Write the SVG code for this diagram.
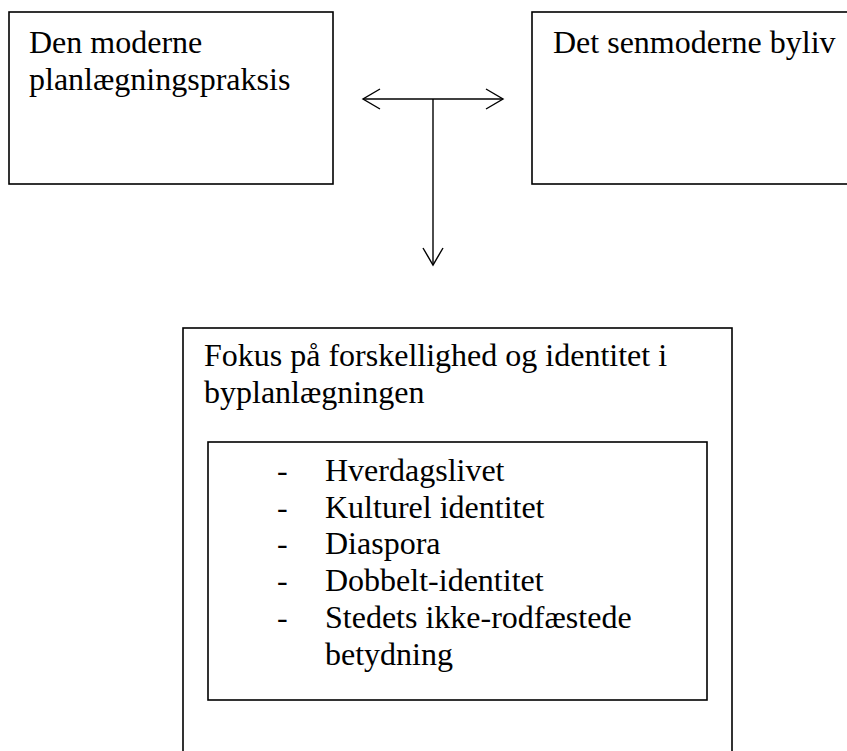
<svg xmlns="http://www.w3.org/2000/svg" width="847" height="751" viewBox="0 0 847 751">
<style>
.box{fill:#fff;stroke:#000;stroke-width:1.6}
.t{font-family:"Liberation Serif","Times New Roman",serif;font-size:32px;fill:#000}
.c{fill:none;stroke:#000;stroke-width:1.4}
</style>
<defs>
<marker id="ah" viewBox="-20 -12 22 24" refX="0" refY="0" markerWidth="22" markerHeight="24" markerUnits="userSpaceOnUse" orient="auto-start-reverse">
<path d="M-17,-10 L0,0 L-17,10" fill="none" stroke="#000" stroke-width="1.4"/>
</marker>
</defs>
<rect width="847" height="751" fill="#fff"/>
<g id="node-moderne">
<rect class="box" x="9" y="12" width="324" height="172"/>
<text class="t" x="29" y="53">Den moderne</text>
<text class="t" x="29" y="90">planlægningspraksis</text>
</g>
<g id="node-senmoderne">
<rect class="box" x="532" y="12" width="330" height="172"/>
<text class="t" x="553" y="53">Det senmoderne byliv</text>
</g>
<g id="node-fokus">
<rect class="box" x="183" y="328" width="549" height="440"/>
<text class="t" x="204" y="366">Fokus på forskellighed og identitet i</text>
<text class="t" x="204" y="403">byplanlægningen</text>
</g>
<g id="node-list">
<rect class="box" x="208" y="442" width="499" height="258"/>
<g class="t">
<text x="277" y="481">-</text><text x="325" y="481">Hverdagslivet</text>
<text x="277" y="518">-</text><text x="325" y="518">Kulturel identitet</text>
<text x="277" y="554">-</text><text x="325" y="554">Diaspora</text>
<text x="277" y="591">-</text><text x="325" y="591">Dobbelt-identitet</text>
<text x="277" y="628">-</text><text x="325" y="628">Stedets ikke-rodfæstede</text>
<text x="325" y="665">betydning</text>
</g>
</g>
<g id="connectors">
<line class="c" x1="363" y1="99" x2="503" y2="99" marker-start="url(#ah)" marker-end="url(#ah)"/>
<line class="c" x1="433" y1="99" x2="433" y2="265" marker-end="url(#ah)"/>
</g>
</svg>
